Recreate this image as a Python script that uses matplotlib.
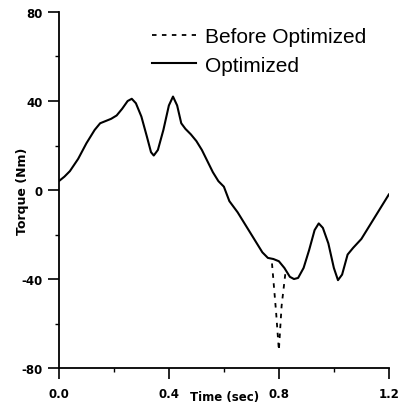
import matplotlib
matplotlib.use("Agg")
import matplotlib.pyplot as plt
from matplotlib.ticker import MultipleLocator, FormatStrFormatter

# Optimized torque curve
time_opt = [0.0, 0.02, 0.04, 0.07, 0.10, 0.13, 0.15, 0.17, 0.19, 0.21, 0.23, 0.25,
            0.265, 0.28, 0.30, 0.32, 0.335, 0.345, 0.36, 0.38, 0.40, 0.415, 0.43,
            0.445, 0.46, 0.48, 0.50, 0.52, 0.54, 0.56, 0.58, 0.60, 0.62, 0.65,
            0.68, 0.71, 0.74, 0.76, 0.78, 0.80, 0.82, 0.84, 0.855, 0.87, 0.89,
            0.91, 0.93, 0.945, 0.96, 0.98, 1.00, 1.015, 1.03, 1.05, 1.07, 1.10,
            1.13, 1.16, 1.185, 1.2]
torque_opt = [4, 6, 8.5, 14, 21, 27, 30, 31, 32, 33.5, 36.5, 40,
              41, 39, 33, 24, 17, 15.5, 18, 27, 38, 42, 38,
              30, 27.5, 25, 22, 18, 13, 8, 4, 1.5, -5, -10,
              -16, -22, -28, -30.5, -31, -32, -35, -39, -40, -39.5, -35,
              -27, -18, -15, -17, -24, -35, -40.5, -38, -29, -26, -22,
              -16, -10, -5, -2]

# Before optimization: only the spike differs from the optimized curve
time_before = [0.775, 0.79, 0.80, 0.81, 0.825]
torque_before = [-33, -55, -72, -52, -36]

fig, ax = plt.subplots(figsize=(3.98, 4.06), dpi=100)
fig.subplots_adjust(left=0.148, right=0.977, bottom=0.091, top=0.968)

ax.plot(time_before, torque_before, color="black", linestyle=(0, (2.5, 3)),
        linewidth=1.3, label="Before Optimized")
ax.plot(time_opt, torque_opt, color="black", linewidth=1.5, label="Optimized")

ax.set_xlim(0, 1.2)
ax.set_ylim(-80, 80)
ax.xaxis.set_major_locator(MultipleLocator(0.4))
ax.xaxis.set_minor_locator(MultipleLocator(0.2))
ax.yaxis.set_major_locator(MultipleLocator(40))
ax.yaxis.set_minor_locator(MultipleLocator(20))
ax.xaxis.set_major_formatter(FormatStrFormatter("%.1f"))
ax.yaxis.set_major_formatter(FormatStrFormatter("%d"))

ax.spines["top"].set_visible(False)
ax.spines["right"].set_visible(False)
ax.spines["left"].set_linewidth(1.3)
ax.spines["bottom"].set_linewidth(1.3)
ax.tick_params(which="major", direction="out", length=8, width=1.2,
               labelsize=8.5)
ax.tick_params(axis="x", which="major", pad=6)
ax.tick_params(axis="y", which="major", pad=3.5)
ax.tick_params(which="minor", direction="out", length=3, width=1.0)
for lab in ax.get_xticklabels() + ax.get_yticklabels():
    lab.set_fontweight("bold")

ax.set_ylabel("Torque (Nm)", fontsize=9, fontweight="bold", labelpad=-5)
ax.text(0.603, -93, "Time (sec)", fontsize=8.5, fontweight="bold",
        ha="center", va="center")

ax.legend(loc="upper left", bbox_to_anchor=(0.225, 1.01), frameon=False,
          prop={"family": "Liberation Sans", "size": 15},
          handlelength=2.1, handletextpad=0.43, labelspacing=0.45)

fig.savefig("out.png", dpi=100)
